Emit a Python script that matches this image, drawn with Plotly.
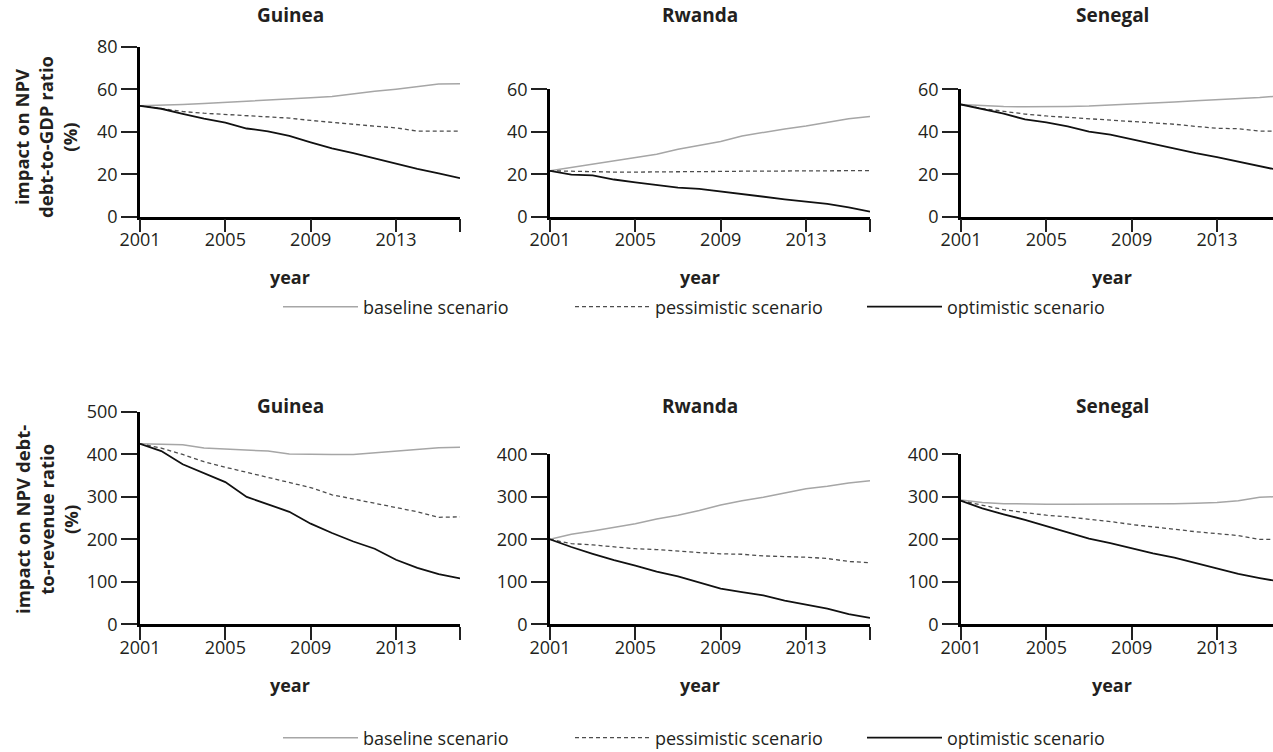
import plotly.graph_objects as go

years = list(range(2001, 2017))

countries = ["Guinea", "Rwanda", "Senegal"]

# Top row: impact on NPV debt-to-GDP ratio (%)
gdp_guinea_base = [52.2, 52.4, 52.8, 53.3, 53.8, 54.2, 54.7, 55.3, 56.0, 56.6, 57.9, 59.0, 60.0, 61.3, 62.4, 62.6]
gdp_guinea_pess = [52.2, 50.8, 49.5, 48.7, 48.1, 47.5, 46.9, 46.4, 45.3, 44.3, 43.4, 42.6, 41.8, 40.3, 40.3, 40.3]
gdp_guinea_opt = [52.2, 50.8, 48.4, 46.1, 44.3, 41.5, 40.2, 38.0, 35.0, 32.2, 29.9, 27.4, 24.7, 22.5, 20.4, 18.1]

gdp_rwanda_base = [21.6, 23.1, 24.9, 26.1, 27.7, 29.4, 31.7, 33.5, 35.4, 38.0, 39.8, 41.3, 42.7, 44.4, 46.1, 47.2]
gdp_rwanda_pess = [21.6, 21.3, 21.0, 21.0, 21.0, 21.0, 21.1, 21.2, 21.3, 21.4, 21.5, 21.6, 21.7, 21.8, 21.8, 21.7]
gdp_rwanda_opt = [21.6, 19.8, 19.4, 17.5, 16.2, 15.0, 13.7, 13.1, 11.8, 10.7, 9.4, 8.2, 7.1, 6.0, 4.4, 2.4]

gdp_senegal_base = [52.8, 52.2, 51.8, 51.7, 51.7, 51.9, 52.1, 52.5, 52.9, 53.4, 54.0, 54.6, 55.1, 55.4, 56.1, 56.9]
gdp_senegal_pess = [52.8, 50.9, 49.6, 48.3, 47.4, 46.8, 46.0, 45.5, 44.9, 44.3, 43.5, 42.5, 41.6, 41.4, 40.3, 40.2]
gdp_senegal_opt = [52.8, 50.7, 48.5, 45.8, 44.4, 42.5, 40.0, 38.6, 36.4, 34.2, 32.1, 29.9, 28.0, 25.8, 23.6, 21.7]

# Bottom row: impact on NPV debt-to-revenue ratio (%)
rev_guinea_base = [425, 424, 423, 415, 413, 411, 408, 401, 400, 400, 400, 404, 408, 413, 416, 417]
rev_guinea_pess = [425, 415, 400, 383, 370, 358, 345, 333, 322, 305, 295, 285, 275, 265, 252, 253]
rev_guinea_opt = [425, 408, 377, 356, 335, 300, 282, 265, 237, 215, 195, 178, 152, 133, 118, 108]

rev_rwanda_base = [200, 212, 220, 228, 237, 248, 257, 268, 281, 291, 299, 309, 319, 325, 333, 338]
rev_rwanda_pess = [200, 190, 187, 182, 178, 176, 172, 169, 166, 165, 161, 160, 158, 155, 148, 145]
rev_rwanda_opt = [200, 182, 166, 151, 138, 124, 113, 98, 84, 76, 68, 56, 47, 37, 24, 15]

rev_senegal_base = [293, 287, 284, 283, 283, 283, 283, 283, 283, 283, 284, 285, 287, 291, 299, 301]
rev_senegal_pess = [291, 281, 270, 263, 257, 253, 248, 242, 235, 230, 224, 218, 213, 209, 200, 200]
rev_senegal_opt = [291, 273, 259, 246, 231, 216, 202, 191, 179, 167, 157, 144, 131, 119, 109, 100]

scenario_names = ["baseline scenario", "pessimistic scenario", "optimistic scenario"]
x_tick_vals = [2001, 2005, 2009, 2013, 2016]
x_tick_text = ["2001", "2005", "2009", "2013", ""]

top_series = [
    (gdp_guinea_base, gdp_guinea_pess, gdp_guinea_opt),
    (gdp_rwanda_base, gdp_rwanda_pess, gdp_rwanda_opt),
    (gdp_senegal_base, gdp_senegal_pess, gdp_senegal_opt),
]
bottom_series = [
    (rev_guinea_base, rev_guinea_pess, rev_guinea_opt),
    (rev_rwanda_base, rev_rwanda_pess, rev_rwanda_opt),
    (rev_senegal_base, rev_senegal_pess, rev_senegal_opt),
]
top_ymax = [80, 60, 60]
bottom_ymax = [500, 400, 400]

W, H = 1273, 752
FONT = "Open Sans"
TXT = "#231f20"
PX_PER_YEAR = 320 / 15

styles = [
    dict(color="#a6a6a6", width=1.5, dash="solid"),
    dict(color="#4d4d4d", width=1.3, dash="4px,3px"),
    dict(color="#111111", width=1.8, dash="solid"),
]

col_px = [(140, 460), (550, 870), (961, 1273)]


def fx(px):
    return px / W


def fy(py):
    return 1 - py / H


fig = go.Figure()

axis_idx = 0
for row, (series, ymaxes, bottom_px, legend_name) in enumerate([
    (top_series, top_ymax, 216.7, "legend"),
    (bottom_series, bottom_ymax, 624.3, "legend2"),
]):
    px_per_unit = 170 / 80 if row == 0 else 212.3 / 500
    dt = 20 if row == 0 else 100
    for c in range(3):
        axis_idx += 1
        sfx = "" if axis_idx == 1 else str(axis_idx)
        x0, x1 = col_px[c]
        x_end = 2001 + (x1 - x0) / PX_PER_YEAR
        ymax = ymaxes[c]
        top_px = bottom_px - ymax * px_per_unit
        for s in range(3):
            fig.add_trace(go.Scatter(
                x=years, y=series[c][s], mode="lines",
                name=scenario_names[s],
                line=styles[s],
                xaxis="x" + sfx, yaxis="y" + sfx,
                showlegend=(c == 0), legend=legend_name,
                hoverinfo="skip",
            ))
        fig.layout["xaxis" + sfx] = dict(
            domain=[fx(x0), fx(x1)], anchor="y" + sfx, range=[2001, x_end],
            tickvals=x_tick_vals, ticktext=x_tick_text,
            showline=True, linecolor="#000", linewidth=2.5,
            ticks="outside", ticklen=13, tickwidth=1.8, tickcolor="#222",
            ticklabelstandoff=-8,
            showgrid=False, zeroline=False, fixedrange=True,
            tickfont=dict(family=FONT, size=18, color=TXT),
        )
        fig.layout["yaxis" + sfx] = dict(
            domain=[fy(bottom_px), fy(top_px)], anchor="x" + sfx, range=[0, ymax],
            dtick=dt, tick0=0,
            showline=True, linecolor="#000", linewidth=2.5,
            ticks="outside", ticklen=16, tickwidth=1.8, tickcolor="#222",
            showgrid=False, zeroline=False, fixedrange=True,
            tickfont=dict(family=FONT, size=18, color=TXT),
        )

annotations = []
title_x = [290, 700, 1112]
for c in range(3):
    for (txt, ypx, size) in [
        (countries[c], 15, 19),
        (countries[c], 406, 19),
        ("year", 277, 18),
        ("year", 685, 18),
    ]:
        annotations.append(dict(text="<b>%s</b>" % txt, x=fx(title_x[c]), y=fy(ypx),
                                xref="paper", yref="paper", showarrow=False,
                                xanchor="center", yanchor="middle",
                                font=dict(family=FONT, size=size, color=TXT)))

annotations.append(dict(text="<b>impact on NPV<br>debt-to-GDP ratio<br>(%)</b>",
                        x=fx(46), y=fy(137), xref="paper", yref="paper", showarrow=False,
                        textangle=-90, xanchor="center", yanchor="middle",
                        font=dict(family=FONT, size=18.5, color=TXT)))
annotations.append(dict(text="<b>impact on NPV debt-<br>to-revenue ratio<br>(%)</b>",
                        x=fx(46), y=fy(520), xref="paper", yref="paper", showarrow=False,
                        textangle=-90, xanchor="center", yanchor="middle",
                        font=dict(family=FONT, size=18.5, color=TXT)))

legend_common = dict(orientation="h", xanchor="left", yanchor="middle",
                     font=dict(family=FONT, size=18, color=TXT),
                     itemwidth=75, entrywidth=202, bgcolor="rgba(0,0,0,0)",
                     itemclick=False, itemdoubleclick=False)

fig.update_layout(
    width=W, height=H,
    margin=dict(l=0, r=0, t=0, b=0, autoexpand=False),
    paper_bgcolor="white", plot_bgcolor="white",
    font=dict(family=FONT, size=18, color=TXT),
    annotations=annotations,
    hovermode=False,
    legend=dict(x=fx(278), y=fy(307), **legend_common),
    legend2=dict(x=fx(278), y=fy(738), **legend_common),
)

fig.write_html("out.html", config={"displayModeBar": False},
               post_script="document.body.style.margin='0';")
